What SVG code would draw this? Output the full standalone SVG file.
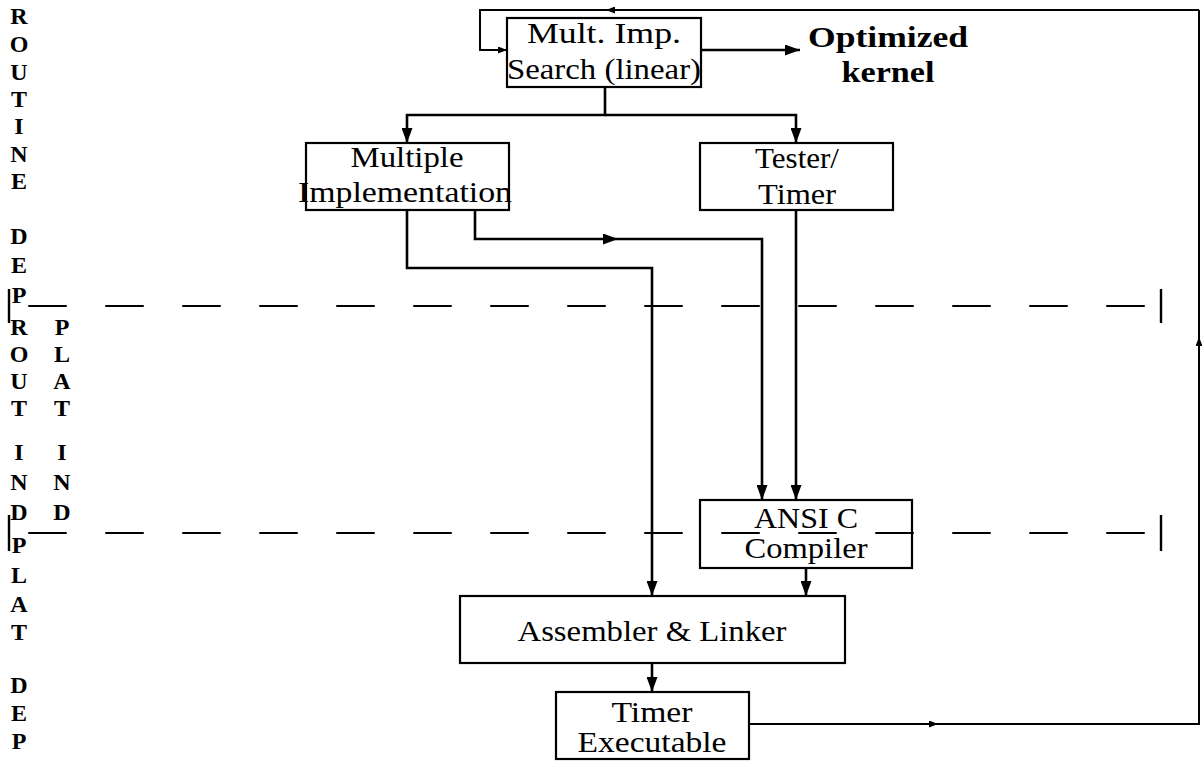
<svg xmlns="http://www.w3.org/2000/svg" width="1202" height="761" viewBox="0 0 1202 761">
<style>
.box{fill:none;stroke:#000;stroke-width:2.2}
.t{font-family:"Liberation Serif","DejaVu Serif",serif;font-size:30px;fill:#000;text-anchor:middle}
.b{font-family:"Liberation Serif","DejaVu Serif",serif;font-size:30px;font-weight:bold;fill:#000;text-anchor:middle}
.side{font-family:"Liberation Serif","DejaVu Serif",serif;font-size:24px;font-weight:bold;fill:#000;text-anchor:middle}
.c{fill:none;stroke:#000;stroke-width:2.6}
.f{fill:none;stroke:#000;stroke-width:2}
.dash{fill:none;stroke:#000;stroke-width:2;stroke-dasharray:38.5 38.5;stroke-dashoffset:57.75}
.tick{stroke:#000;stroke-width:2.4}
</style>
<defs>
<marker id="big" markerUnits="userSpaceOnUse" markerWidth="15" markerHeight="11" refX="15" refY="5.5" orient="auto"><path d="M0,0 L15,5.5 L0,11 z" fill="#000"/></marker>
<marker id="small" markerUnits="userSpaceOnUse" markerWidth="9" markerHeight="7" refX="9" refY="3.5" orient="auto"><path d="M0,0 L9,3.5 L0,7 z" fill="#000"/></marker>
</defs>

<g id="label-routine-dep">
<text class="side" x="19" y="24">R</text>
<text class="side" x="19" y="52">O</text>
<text class="side" x="19" y="80">U</text>
<text class="side" x="19" y="107">T</text>
<text class="side" x="19" y="134">I</text>
<text class="side" x="19" y="162">N</text>
<text class="side" x="19" y="189">E</text>
<text class="side" x="19" y="244">D</text>
<text class="side" x="19" y="273">E</text>
<text class="side" x="19" y="303">P</text>
</g>
<g id="label-rout-ind">
<text class="side" x="19" y="335">R</text>
<text class="side" x="19" y="362">O</text>
<text class="side" x="19" y="389">U</text>
<text class="side" x="19" y="416">T</text>
<text class="side" x="19" y="460">I</text>
<text class="side" x="19" y="490">N</text>
<text class="side" x="19" y="520">D</text>
</g>
<g id="label-plat-ind">
<text class="side" x="62" y="335">P</text>
<text class="side" x="62" y="362">L</text>
<text class="side" x="62" y="389">A</text>
<text class="side" x="62" y="416">T</text>
<text class="side" x="62" y="460">I</text>
<text class="side" x="62" y="490">N</text>
<text class="side" x="62" y="520">D</text>
</g>
<g id="label-plat-dep">
<text class="side" x="19" y="553">P</text>
<text class="side" x="19" y="583">L</text>
<text class="side" x="19" y="612">A</text>
<text class="side" x="19" y="640">T</text>
<text class="side" x="19" y="693">D</text>
<text class="side" x="19" y="721">E</text>
<text class="side" x="19" y="749">P</text>
</g>

<g id="separators">
<line class="dash" x1="9" y1="306" x2="1161" y2="306"/>
<line class="tick" x1="9" y1="289" x2="9" y2="323"/>
<line class="tick" x1="1161" y1="289" x2="1161" y2="323"/>
<line class="dash" x1="9" y1="533" x2="1161" y2="533"/>
<line class="tick" x1="9" y1="515" x2="9" y2="551"/>
<line class="tick" x1="1161" y1="515" x2="1161" y2="551"/>
</g>

<g id="connectors">
<path class="f" d="M1199,10 L606,10" marker-end="url(#small)"/>
<path class="f" d="M606,10 L480,10 L480,50 L507,50" marker-end="url(#small)"/>
<path class="c" d="M701,50 L800,50" marker-end="url(#big)"/>
<path class="c" d="M605,87 L605,115 L407,115 L407,143" marker-end="url(#big)"/>
<path class="c" d="M605,115 L796,115 L796,143" marker-end="url(#big)"/>
<path class="c" d="M407,210 L407,268 L652,268 L652,596" marker-end="url(#big)"/>
<path class="c" d="M475,210 L475,239 L618,239" marker-end="url(#big)"/>
<path class="c" d="M618,239 L762,239 L762,500" marker-end="url(#big)"/>
<path class="c" d="M796,210 L796,500" marker-end="url(#big)"/>
<path class="c" d="M806,568 L806,596" marker-end="url(#big)"/>
<path class="c" d="M652,663 L652,692" marker-end="url(#big)"/>
<path class="f" d="M749,724 L938,724" marker-end="url(#small)"/>
<path class="f" d="M938,724 L1199,724 L1199,337" marker-end="url(#small)"/>
<path class="f" d="M1199,337 L1199,10"/>
</g>

<g id="mult-search">
<rect class="box" x="507" y="18" width="194" height="69"/>
<text class="t" x="604" y="43" textLength="154" lengthAdjust="spacingAndGlyphs">Mult. Imp.</text>
<text class="t" x="604" y="79" textLength="194" lengthAdjust="spacingAndGlyphs">Search (linear)</text>
</g>

<g id="optimized-kernel">
<text class="b" x="888" y="47" textLength="160" lengthAdjust="spacingAndGlyphs">Optimized</text>
<text class="b" x="888" y="82" textLength="93" lengthAdjust="spacingAndGlyphs">kernel</text>
</g>

<g id="multiple-impl">
<rect class="box" x="306" y="143" width="203" height="67"/>
<text class="t" x="407" y="167" textLength="113" lengthAdjust="spacingAndGlyphs">Multiple</text>
<text class="t" x="405" y="202" textLength="214" lengthAdjust="spacingAndGlyphs">Implementation</text>
</g>

<g id="tester-timer">
<rect class="box" x="700" y="143" width="193" height="67"/>
<text class="t" x="797" y="168" textLength="84" lengthAdjust="spacingAndGlyphs">Tester/</text>
<text class="t" x="797" y="204" textLength="78" lengthAdjust="spacingAndGlyphs">Timer</text>
</g>

<g id="ansi-c">
<rect class="box" x="700" y="500" width="212" height="68"/>
<text class="t" x="806" y="528" textLength="104" lengthAdjust="spacingAndGlyphs">ANSI C</text>
<text class="t" x="806" y="558" textLength="123" lengthAdjust="spacingAndGlyphs">Compiler</text>
</g>

<g id="assembler-linker">
<rect class="box" x="460" y="596" width="385" height="67"/>
<text class="t" x="652" y="641" textLength="269" lengthAdjust="spacingAndGlyphs">Assembler &amp; Linker</text>
</g>

<g id="timer-executable">
<rect class="box" x="556" y="692" width="193" height="67"/>
<text class="t" x="652" y="722" textLength="81" lengthAdjust="spacingAndGlyphs">Timer</text>
<text class="t" x="652" y="752" textLength="149" lengthAdjust="spacingAndGlyphs">Executable</text>
</g>
</svg>
